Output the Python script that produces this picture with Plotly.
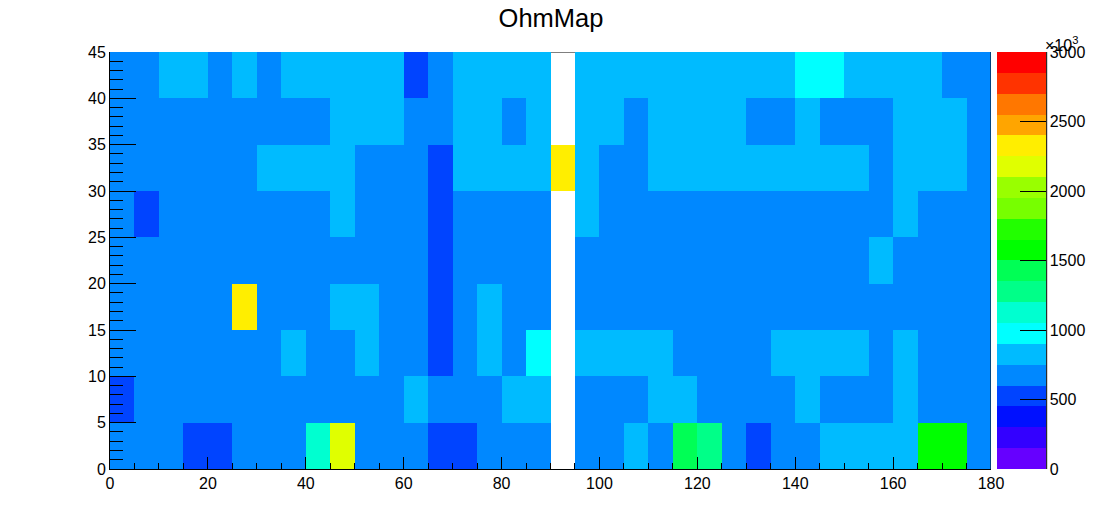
import plotly.graph_objects as go

title = 'OhmMap'

# bin contents, blank column has no data
y_0_5 = [675, 675, 675, 525, 525, 675, 675, 675, 1125, 2175, 675, 675, 675, 525, 525, 675, 675, 675, None,
         675, 675, 825, 675, 1425, 1275, 675, 525, 675, 675, 825, 825, 825, 825, 1575, 1575, 675]
y_5_10 = [525, 675, 675, 675, 675, 675, 675, 675, 675, 675, 675, 675, 825, 675, 675, 675, 825, 825, None,
          675, 675, 675, 825, 825, 675, 675, 675, 675, 825, 675, 675, 675, 825, 675, 675, 675]
y_10_15 = [675, 675, 675, 675, 675, 675, 675, 825, 675, 675, 825, 675, 675, 525, 675, 825, 675, 975, None,
           825, 825, 825, 825, 675, 675, 675, 675, 825, 825, 825, 825, 675, 825, 675, 675, 675]
y_15_20 = [675, 675, 675, 675, 675, 2325, 675, 675, 675, 825, 825, 675, 675, 525, 675, 825, 675, 675, None,
           675, 675, 675, 675, 675, 675, 675, 675, 675, 675, 675, 675, 675, 675, 675, 675, 675]
y_20_25 = [675, 675, 675, 675, 675, 675, 675, 675, 675, 675, 675, 675, 675, 525, 675, 675, 675, 675, None,
           675, 675, 675, 675, 675, 675, 675, 675, 675, 675, 675, 675, 825, 675, 675, 675, 675]
y_25_30 = [675, 525, 675, 675, 675, 675, 675, 675, 675, 825, 675, 675, 675, 525, 675, 675, 675, 675, None,
           825, 675, 675, 675, 675, 675, 675, 675, 675, 675, 675, 675, 675, 825, 675, 675, 675]
y_30_35 = [675, 675, 675, 675, 675, 675, 825, 825, 825, 825, 675, 675, 675, 525, 825, 825, 825, 825, 2325,
           825, 675, 675, 825, 825, 825, 825, 825, 825, 825, 825, 825, 675, 825, 825, 825, 675]
y_35_40 = [675, 675, 675, 675, 675, 675, 675, 675, 675, 825, 825, 825, 675, 675, 825, 825, 675, 825, None,
           825, 825, 675, 825, 825, 825, 825, 675, 675, 825, 675, 675, 675, 825, 825, 825, 675]
y_40_45 = [675, 675, 825, 825, 675, 825, 675, 825, 825, 825, 825, 825, 525, 675, 825, 825, 825, 825, None,
           825, 825, 825, 825, 825, 825, 825, 825, 825, 975, 975, 825, 825, 825, 825, 675, 675]

# palette steps, one colour per 150 wide contour
palette = ['#6600ff', '#3300ff', '#0010ff', '#0044ff', '#0088ff', '#00bbff', '#00ffff',
           '#00ffd0', '#00ff88', '#00ff55', '#00ff00', '#22ff00', '#77ff00', '#99ff00',
           '#e0ff00', '#ffee00', '#ffa500', '#ff7700', '#ff3300', '#ff0000']

n = len(palette)
colorscale = []
for i, c in enumerate(palette):
    colorscale.append([i / n, c])
    colorscale.append([(i + 1) / n, c])

z = [y_0_5, y_5_10, y_10_15, y_15_20, y_20_25, y_25_30, y_30_35, y_35_40, y_40_45]

fig = go.Figure()

fig.add_trace(go.Heatmap(
    z=z,
    x0=2.5, dx=5,
    y0=2.5, dy=5,
    zmin=0, zmax=3000,
    colorscale=colorscale,
    hoverongaps=False,
    colorbar=dict(
        x=1.0072, xanchor='left', xpad=0,
        y=0, yanchor='bottom', len=1, ypad=0,
        thickness=49,
        outlinewidth=0,
        tick0=0, dtick=500,
        ticks='inside', ticklen=26, tickwidth=1, tickcolor='black',
        tickfont=dict(size=16, color='black'),
    ),
))

# frame: top only seen through the empty column, right edge stays on top
fig.add_shape(type='line', xref='x', yref='y', x0=0, x1=180, y0=45, y1=45,
              line=dict(color='black', width=1), layer='below')
fig.add_shape(type='line', xref='x', yref='y', x0=180, x1=180, y0=0, y1=45,
              line=dict(color='black', width=1))
# right edge of the palette
fig.add_shape(type='line', xref='paper', yref='paper', x0=1.0632, x1=1.0632, y0=0, y1=1,
              line=dict(color='black', width=1))

fig.add_annotation(xref='paper', yref='paper', x=1.0612, y=1.0, xanchor='left', yanchor='bottom',
                   xshift=-2, yshift=-4, text='×10<sup>3</sup>', showarrow=False,
                   font=dict(size=16, color='black'))

fig.update_layout(
    title=dict(text=title, x=0.5, xanchor='center', y=0.965, yanchor='middle',
               font=dict(size=25.5, color='black')),
    font=dict(family='Liberation Sans'),
    width=1102, height=522,
    margin=dict(l=109.5, r=110.5, t=52, b=53, autoexpand=False),
    plot_bgcolor='white',
    paper_bgcolor='white',
)

fig.update_xaxes(
    range=[0, 180], tick0=0, dtick=20,
    ticks='inside', ticklen=12, tickwidth=1, tickcolor='black',
    showline=True, linecolor='black', linewidth=1,
    showgrid=False, zeroline=False,
    tickfont=dict(size=16, color='black'),
    minor=dict(dtick=5, ticks='inside', ticklen=6, tickwidth=1, tickcolor='black', showgrid=False),
)
fig.update_yaxes(
    range=[0, 45], tick0=0, dtick=5,
    ticks='inside', ticklen=26, tickwidth=1, tickcolor='black',
    showline=True, linecolor='black', linewidth=1,
    showgrid=False, zeroline=False,
    tickfont=dict(size=16, color='black'),
    minor=dict(dtick=1, ticks='inside', ticklen=13, tickwidth=1, tickcolor='black', showgrid=False),
)

fig.write_html("out.html", config=dict(displayModeBar=False),
               post_script="document.body.style.margin='0';")
